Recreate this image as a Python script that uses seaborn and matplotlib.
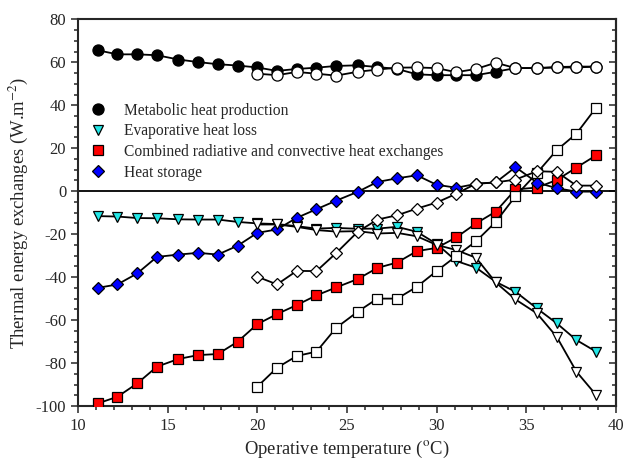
import matplotlib
matplotlib.use('Agg')
import matplotlib.pyplot as plt
from matplotlib.lines import Line2D
from matplotlib.ticker import MultipleLocator
import seaborn as sns

# operative temperature (deg C), 2 deg F steps
temps = [11.1, 12.2, 13.3, 14.4, 15.6, 16.7, 17.8, 18.9, 20.0, 21.1, 22.2, 23.3, 24.4,
         25.6, 26.7, 27.8, 28.9, 30.0, 31.1, 32.2, 33.3, 34.4, 35.6, 36.7, 37.8, 38.9]
temps_b = temps[8:]

# filled symbols (series A)
metabolic = [65.6, 63.7, 63.7, 63.3, 61.3, 60.1, 59.1, 58.5, 57.6, 56.0, 56.9, 57.5, 58.3,
             58.6, 57.8, 56.9, 54.4, 54.0, 54.0, 54.0, 55.6, 57.3, 57.3, 57.8, 58.0, 58.0]
evaporative = [-11.6, -11.8, -12.5, -12.6, -13.1, -13.2, -13.2, -14.3, -15.0, -15.3, -16.3, -17.4, -17.1,
               -17.5, -17.4, -16.6, -18.9, -24.5, -32.5, -35.6, -42.2, -46.8, -54.6, -61.5, -69.3, -74.7]
radconv = [-98.8, -95.7, -89.5, -81.7, -78.1, -76.3, -75.8, -70.1, -61.9, -57.2, -53.0, -48.5, -44.8,
           -40.9, -35.7, -33.2, -27.9, -26.4, -21.5, -15.0, -9.5, 0.8, 1.7, 5.2, 11.0, 16.7]
storage = [-45.0, -43.4, -38.3, -30.6, -29.5, -28.7, -29.5, -25.4, -19.4, -17.8, -12.4, -8.4, -4.4,
           -0.3, 4.3, 6.0, 7.4, 3.0, 1.6, 3.4, 4.1, 11.2, 4.0, 1.4, -0.2, -0.2]

# open symbols (series B)
metabolic_b = [54.7, 54.0, 55.5, 54.7, 53.8, 55.6, 56.6, 57.5, 57.6, 57.3, 55.4, 56.9, 59.8,
               57.3, 57.3, 57.6, 57.6, 58.0]
evaporative_b = [-15.5, -15.5, -16.6, -18.1, -18.8, -18.6, -19.7, -19.4, -21.0, -25.0, -27.4, -31.0, -42.5,
                 -50.4, -56.9, -67.8, -84.0, -94.9]
radconv_b = [-91.0, -82.2, -76.7, -74.7, -63.6, -56.1, -50.0, -50.0, -44.5, -37.2, -30.2, -23.3, -14.3,
             -2.3, 8.5, 19.1, 26.8, 38.9]
storage_b = [-39.8, -43.4, -37.1, -37.2, -28.8, -18.9, -13.2, -11.2, -8.1, -5.3, -1.2, 3.5, 4.1,
             5.4, 9.3, 9.0, 2.6, 2.6]

labels = ['Metabolic heat production', 'Evaporative heat loss',
          'Combined radiative and convective heat exchanges', 'Heat storage']

sns.set_style('ticks')
plt.rcParams['font.family'] = ['Liberation Serif', 'DejaVu Serif']
plt.rcParams['mathtext.fontset'] = 'stix'
plt.rcParams['axes.unicode_minus'] = False

fig = plt.figure(figsize=(6.24, 4.67), dpi=100)
ax = fig.add_axes([0.125, 0.1306, 0.862, 0.828])

ax.axhline(0, color='black', lw=1.3, zorder=1)

# (values, x, marker, size, face colour)
filled = [(metabolic, temps, 'o', 8, 'black'),
          (evaporative, temps, 'v', 7.5, '#22e6e6'),
          (radconv, temps, 's', 7, '#ff0000'),
          (storage, temps, 'D', 6.5, '#0000ff')]
opened = [(metabolic_b, temps_b, 'o', 8, 'white'),
          (evaporative_b, temps_b, 'v', 7.5, 'white'),
          (radconv_b, temps_b, 's', 7, 'white'),
          (storage_b, temps_b, 'D', 6.5, 'white')]

z = 2
for vals, xs, mk, ms, fc in filled + opened:
    sns.lineplot(x=xs, y=vals, ax=ax, color='black', lw=1.3, marker=mk, markersize=ms,
                 markerfacecolor=fc, markeredgecolor='black', markeredgewidth=0.9, zorder=z)
    z += 1

handles = []
for vals, xs, mk, ms, fc in filled:
    handles.append(Line2D([], [], linestyle='none', marker=mk, markersize=ms,
                          markerfacecolor=fc, markeredgecolor='black', markeredgewidth=0.9))
ax.legend(handles, labels, loc='upper left', bbox_to_anchor=(0.011, 0.801), frameon=False,
          fontsize=11.2, handlelength=1.0, handletextpad=1.15, labelspacing=0.3,
          borderaxespad=0.0)

ax.set_xlim(10, 40)
ax.set_ylim(-100, 80)
ax.xaxis.set_major_locator(MultipleLocator(5))
ax.xaxis.set_minor_locator(MultipleLocator(1))
ax.yaxis.set_major_locator(MultipleLocator(20))
ax.yaxis.set_minor_locator(MultipleLocator(5))
ax.tick_params(which='both', direction='out', top=False, right=False, labelsize=12, width=1.1)
ax.tick_params(which='major', length=5)
ax.tick_params(which='minor', length=3)

# right side ticks point inward
sec = ax.secondary_yaxis('right')
sec.yaxis.set_major_locator(MultipleLocator(20))
sec.yaxis.set_minor_locator(MultipleLocator(5))
sec.tick_params(which='both', direction='in', labelright=False, width=1.1)
sec.tick_params(which='major', length=5)
sec.tick_params(which='minor', length=3)
sec.spines['right'].set_linewidth(1.5)

for s in ax.spines.values():
    s.set_linewidth(1.5)

ax.set_xlabel(r'Operative temperature ($^{\rm o}$C)', fontsize=13.4)
ax.set_ylabel(r'Thermal energy exchanges (W.m$^{-2}$)', fontsize=13.4)

plt.savefig('out.png', dpi=100)
